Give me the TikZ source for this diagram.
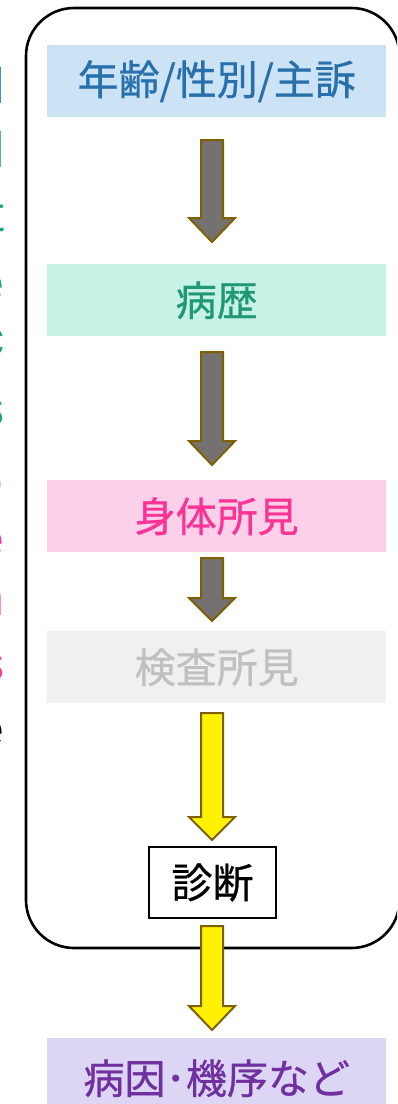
\documentclass[tikz,border=0pt]{standalone}
\usepackage{fontspec}
\newfontfamily\jp[FakeBold=0.7]{Noto Sans CJK JP}
\newfontfamily\lat{Liberation Sans}
\definecolor{bluefill}{RGB}{204,227,245}
\definecolor{bluetext}{RGB}{40,112,172}
\definecolor{tealfill}{RGB}{199,243,230}
\definecolor{tealtext}{RGB}{32,152,116}
\definecolor{pinkfill}{RGB}{252,208,232}
\definecolor{pinktext}{RGB}{250,52,150}
\definecolor{grayfill}{RGB}{240,240,240}
\definecolor{graytext}{RGB}{192,192,192}
\definecolor{purplefill}{RGB}{220,214,244}
\definecolor{purpletext}{RGB}{112,48,160}
\definecolor{arrowgray}{RGB}{118,113,113}
\definecolor{arrowbrown}{RGB}{127,96,0}
\definecolor{sideblue}{RGB}{0,112,192}
\definecolor{sideteal}{RGB}{31,163,127}
\definecolor{sidepink}{RGB}{255,51,153}
\tikzset{
  stage/.style={minimum width=339pt, minimum height=72pt, inner sep=0pt, anchor=north west,
    font=\jp\fontsize{41}{41}\selectfont},
  frame/.style={draw=black, line width=2.6pt, rounded corners=48pt},
  grayarrow/.style={fill=arrowgray, draw=arrowbrown, line width=2pt, line join=miter},
  yellowarrow/.style={fill=yellow, draw=arrowbrown, line width=2pt, line join=miter},
  sidetext/.style={anchor=base east, inner sep=0pt, font=\lat\fontsize{50}{50}\selectfont},
}
\newcommand{\blkarrow}[5]{% style, name, top, head start, tip
  \coordinate (#2) at (212,#5);
  \draw[#1] (201,#3) -- (223,#3) -- (223,#4) -- (235,#4) -- (#2) -- (189,#4) -- (201,#4) -- cycle;}
\begin{document}
\begin{tikzpicture}[x=1pt,y=-1pt]
\useasboundingbox (0,0) rectangle (397,1104);
\begin{scope}
\clip (0,0) rectangle (397,1104);
% clipped side text fragments
\node[sidetext, text=sideblue] (s1) at (4.5,103) {l};
\node[sidetext, text=sideteal] (s2) at (4.5,167) {l};
\node[sidetext, text=sideteal] (s3) at (4.5,231) {t};
\node[sidetext, text=sideteal] (s4) at (4.5,300) {e};
\node[sidetext, text=sideteal] (s5) at (4.5,355) {c};
\node[sidetext, text=sideteal] (s6) at (4.5,425) {s};
\node[sidetext, text=sideteal] (s7) at (5.5,487) {.};
\node[sidetext, text=sidepink] (s8) at (4.5,556) {e};
\node[sidetext, text=sidepink] (s9) at (5,615) {n};
\node[sidetext, text=sidepink] (s10) at (4.5,680) {s};
\node[sidetext, text=black] (s11) at (5,746) {e};
% frame
\draw[frame] (26,8) rectangle (399.5,948);
% stages
\node[stage, fill=bluefill, text=bluetext] (age) at (47,45) {年齢/性別/主訴};
\node[stage, fill=tealfill, text=tealtext] (hist) at (47,264) {病歴};
\node[stage, fill=pinkfill, text=pinktext] (phys) at (47,480) {身体所見};
\node[stage, fill=grayfill, text=graytext] (lab) at (47,631) {検査所見};
\node[draw=black, line width=1.2pt, fill=white, minimum width=127pt, minimum height=71pt, inner sep=0pt,
  font=\jp\fontsize{41}{41}\selectfont] (dx) at (212.5,882.5) {診断};
\node[stage, fill=purplefill, text=purpletext, minimum height=80pt] (cause) at (47,1038) {病因･機序など};
% arrows
\blkarrow{grayarrow}{t1}{140}{218}{242}
\blkarrow{grayarrow}{t2}{352}{441}{465}
\blkarrow{grayarrow}{t3}{558}{598}{621}
\blkarrow{yellowarrow}{t4}{713}{817}{840}
\blkarrow{yellowarrow}{t5}{926}{1006}{1030}
\end{scope}
\end{tikzpicture}
\end{document}
